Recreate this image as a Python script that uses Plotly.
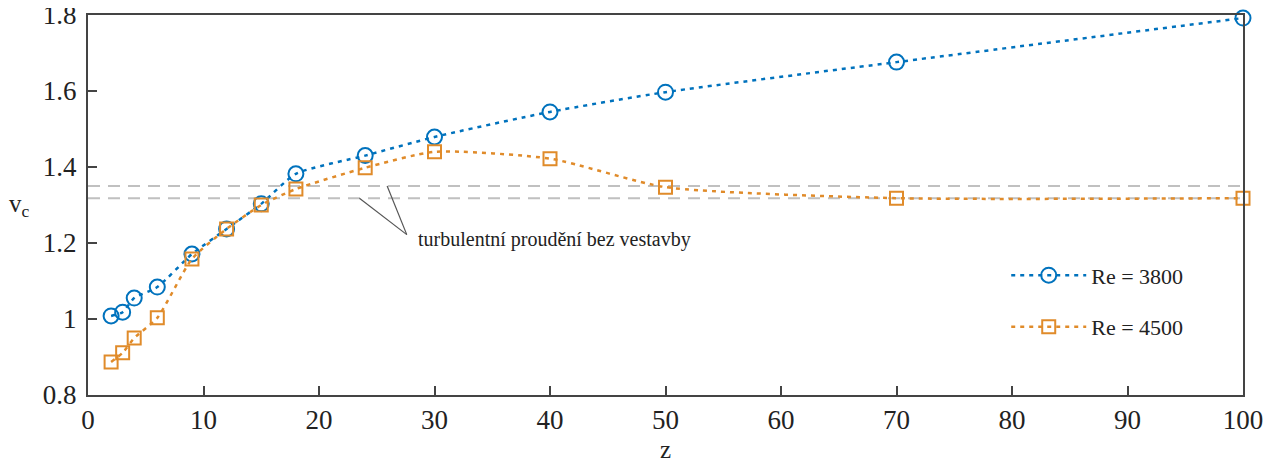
import plotly.graph_objects as go

z = [2, 3, 4, 6, 9, 12, 15, 18, 24, 30, 40, 50, 70, 100]
vc_re3800 = [1.008, 1.018, 1.055, 1.084, 1.171, 1.237, 1.303, 1.382, 1.430, 1.479, 1.545, 1.597, 1.676, 1.792]
vc_re4500 = [0.887, 0.911, 0.950, 1.003, 1.158, 1.237, 1.300, 1.342, 1.398, 1.440, 1.422, 1.347, 1.318, 1.318]
turbulent_levels = [1.35, 1.318]
labels = ["Re = 3800", "Re = 4500"]

BLUE = "#0072BD"
ORANGE = "#E08B2A"
FONT = "Liberation Serif, DejaVu Serif, serif"

fig = go.Figure()
fig.add_trace(go.Scatter(
    x=z, y=vc_re3800, name=labels[0], mode="lines+markers", cliponaxis=False,
    line=dict(color=BLUE, width=2.5, dash="4px,5px", shape="spline", smoothing=0.6),
    marker=dict(symbol="circle-open", size=15, color=BLUE, line=dict(width=2, color=BLUE)),
    legendgroup="a",
))
fig.add_trace(go.Scatter(
    x=z, y=vc_re4500, name=labels[1], mode="lines+markers", cliponaxis=False,
    line=dict(color=ORANGE, width=2.5, dash="4px,5px", shape="spline", smoothing=0.6),
    marker=dict(symbol="square-open", size=13, color=ORANGE, line=dict(width=2, color=ORANGE)),
    legendgroup="b",
))

for lvl in turbulent_levels:
    fig.add_shape(type="line", xref="x", yref="y", x0=0, x1=100, y0=lvl, y1=lvl,
                  line=dict(color="#C0C0C0", width=2, dash="12px,8px"), layer="below")

# leader lines for annotation
fig.add_shape(type="line", xref="x", yref="y", x0=27.6, y0=1.222, x1=23.5, y1=1.318,
              line=dict(color="#555555", width=1.2))
fig.add_shape(type="line", xref="x", yref="y", x0=27.6, y0=1.222, x1=25.9, y1=1.350,
              line=dict(color="#555555", width=1.2))
fig.add_annotation(x=28.4, y=1.208, xref="x", yref="y", text="turbulentní proudění bez vestavby",
                   showarrow=False, xanchor="left", yanchor="middle",
                   font=dict(family=FONT, size=20, color="#222222"))

fig.add_annotation(x=-0.059, y=0.50, xref="paper", yref="paper", text="v<sub>c</sub>",
                   showarrow=False, xanchor="center", yanchor="middle",
                   font=dict(family=FONT, size=25, color="#222222"))

axis_common = dict(
    showgrid=False, zeroline=False, showline=True, mirror=True, automargin=False,
    linecolor="#444444", linewidth=2, ticks="inside", ticklen=9, tickwidth=2,
    tickcolor="#444444", tickfont=dict(family=FONT, size=27, color="#222222"),
    ticklabeloverflow="allow",
)
fig.update_xaxes(range=[0, 100], tickvals=list(range(0, 101, 10)),
                 title=dict(text="z", font=dict(family=FONT, size=25, color="#222222"), standoff=6),
                 **axis_common)
fig.update_yaxes(range=[0.8, 1.8], tickvals=[0.8, 1.0, 1.2, 1.4, 1.6, 1.8],
                 ticktext=["0.8", "1", "1.2", "1.4", "1.6", "1.8"], ticklabelstandoff=4, **axis_common)

fig.update_layout(
    width=1271, height=463,
    margin=dict(l=80, r=36, t=7, b=76),
    plot_bgcolor="white", paper_bgcolor="white",
    legend=dict(x=0.795, y=0.37, xanchor="left", yanchor="top", bgcolor="rgba(0,0,0,0)",
                font=dict(family=FONT, size=22, color="#222222"), tracegroupgap=20,
                itemwidth=75),
    showlegend=True,
)

fig.write_html("out.html")
